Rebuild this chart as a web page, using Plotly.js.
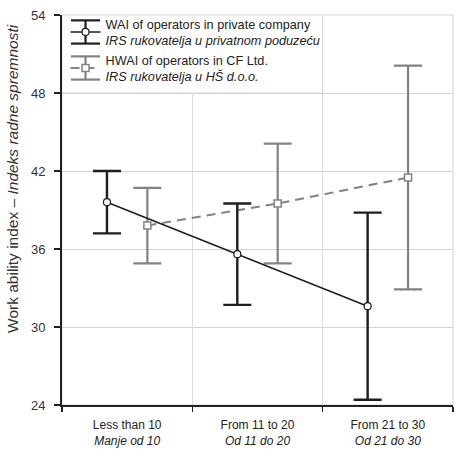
<!DOCTYPE html>
<html>
<head>
<meta charset="utf-8">
<script src="https://cdn.plot.ly/plotly-3.0.1.min.js"></script>
<style>
  html, body { margin: 0; padding: 0; background: #fff; }
  #chart { width: 458px; height: 454px; }
</style>
</head>
<body>
<div id="chart"></div>
<script>
// Work experience groups (English / Croatian)
const categories = ["Less than 10", "From 11 to 20", "From 21 to 30"];
const categoriesHr = ["Manje od 10", "Od 11 do 20", "Od 21 do 30"];

// WAI of operators in private company: mean and standard deviation
const waiMean = [39.6, 35.6, 31.6];
const waiSd = [2.4, 3.9, 7.2];

// HWAI of operators in CF Ltd.: mean and standard deviation
const hwaiMean = [37.8, 39.5, 41.5];
const hwaiSd = [2.9, 4.6, 8.6];

// Y-axis ticks
const yTicks = [24, 30, 36, 42, 48, 54];

const FONT = "Liberation Sans, Arial, sans-serif";
const DARK = "#1e1e1e";
const GREY = "#828282";
const GRID = "#d3d3d3";
const SHIFT = 0.155;          // side-by-side offset of the two series within a group
const idx = categories.map((_, i) => i);
const bounds = [-0.5].concat(idx.map(i => i + 0.5));

const hwai = {
  type: "scatter",
  mode: "lines+markers",
  x: idx.map(i => i + SHIFT),
  y: hwaiMean,
  name: "HWAI of operators in CF Ltd.<br><i>IRS rukovatelja u HŠ d.o.o.</i>",
  legendrank: 2,
  line: { color: GREY, width: 2, dash: "9px,6px" },
  marker: { symbol: "square", size: 7, color: "#fff", line: { color: GREY, width: 1.5 } },
  error_y: { type: "data", array: hwaiSd, visible: true, color: GREY, thickness: 2.2, width: 14 },
  xaxis: "x", yaxis: "y",
  hoverinfo: "skip"
};

const wai = {
  type: "scatter",
  mode: "lines+markers",
  x: idx.map(i => i - SHIFT),
  y: waiMean,
  name: "WAI of operators in private company<br><i>IRS rukovatelja u privatnom poduzeću</i>",
  legendrank: 1,
  line: { color: DARK, width: 1.5 },
  marker: { symbol: "circle", size: 7, color: "#fff", line: { color: DARK, width: 1.2 } },
  error_y: { type: "data", array: waiSd, visible: true, color: DARK, thickness: 2.4, width: 14 },
  xaxis: "x", yaxis: "y",
  hoverinfo: "skip"
};

// invisible trace so the boundary axis is rendered
const boundaryAxis = {
  type: "scatter", mode: "markers", x: bounds, y: bounds.map(() => 54),
  xaxis: "x2", yaxis: "y", showlegend: false, hoverinfo: "skip",
  marker: { opacity: 0 }
};

const M = { l: 62, r: 5, t: 15, b: 49 };
const W = 458, H = 454;
const pw = W - M.l - M.r, ph = H - M.t - M.b;

const baseShapes = [
  // light frame on the top and right sides
  { type: "rect", xref: "paper", yref: "paper", x0: 0, x1: 1, y0: 0, y1: 1,
    line: { color: GRID, width: 1 }, layer: "below" },
  // legend panel over the upper-left grid cell
  { type: "rect", xref: "x", yref: "y", x0: bounds[0], x1: bounds[2], y0: 48, y1: 54,
    fillcolor: "#fff", line: { color: GRID, width: 1 }, layer: "between" }
];

const layout = {
  width: W,
  height: H,
  margin: M,
  paper_bgcolor: "#fff",
  plot_bgcolor: "#fff",
  font: { family: FONT, size: 12, color: "#222" },
  showlegend: true,
  legend: {
    x: 0.009, y: 1.0155, xanchor: "left", yanchor: "top",
    bgcolor: "rgba(0,0,0,0)", borderwidth: 0,
    font: { family: FONT, size: 12.7, color: "#222" },
    tracegroupgap: 3, itemwidth: 30
  },
  xaxis: {
    range: [-0.5, 2.5],
    tickmode: "array",
    tickvals: idx,
    ticktext: categories.map((c, i) => c + "<br><i>" + categoriesHr[i] + "</i>"),
    ticks: "",
    showgrid: false, zeroline: false, showline: false,
    ticklabelstandoff: 11,
    tickfont: { family: FONT, size: 12, color: "#222" },
    fixedrange: true
  },
  xaxis2: {
    overlaying: "x",
    range: [-0.5, 2.5],
    tickmode: "array",
    tickvals: bounds,
    ticks: "outside", ticklen: 5, tickwidth: 1.5, tickcolor: "#222",
    showticklabels: false,
    showgrid: true, gridcolor: "#dedede", gridwidth: 1,
    zeroline: false,
    showline: true, linecolor: "#222", linewidth: 2,
    side: "bottom", anchor: "y",
    fixedrange: true
  },
  yaxis: {
    range: [24, 54],
    tickmode: "array",
    tickvals: yTicks,
    ticks: "outside", ticklen: 6, tickwidth: 1.5, tickcolor: "#222",
    ticklabelstandoff: 6,
    showgrid: true, gridcolor: GRID, gridwidth: 1,
    zeroline: false,
    showline: true, linecolor: "#222", linewidth: 2,
    tickfont: { family: FONT, size: 13, color: "#333" },
    fixedrange: true
  },
  shapes: baseShapes,
  annotations: [
    { xref: "paper", yref: "paper", x: -0.128, y: 0.582, xanchor: "center", yanchor: "middle",
      textangle: -90, showarrow: false,
      text: "Work ability index – <i>Indeks radne spremnosti</i>",
      font: { family: FONT, size: 15.5, color: "#333" } }
  ]
};

// Legend icons get error-bar caps around their markers, like the plotted series
function legendCaps(gd) {
  const svg = gd.querySelector("svg.main-svg").getBoundingClientRect();
  const toPx = v => (v - M.l) / pw;
  const toPy = v => (H - M.b - v) / ph;
  const extra = [];
  gd.querySelectorAll("g.legend g.traces").forEach(g => {
    const pt = g.querySelector("path.scatterpts");
    const d = g.__data__ && g.__data__[0];
    if (!pt || !d || !d.trace || !d.trace.error_y) return;
    const r = pt.getBoundingClientRect();
    const cx = r.left + r.width / 2 - svg.left;
    const cy = r.top + r.height / 2 - svg.top;
    const color = d.trace.error_y.color;
    const half = 11.6, reach = 14.5;
    const seg = (x0, y0, x1, y1) => ({
      type: "line", xref: "paper", yref: "paper",
      x0: toPx(x0), y0: toPy(y0), x1: toPx(x1), y1: toPy(y1),
      line: { color: color, width: 2.2 }, layer: "above"
    });
    extra.push(seg(cx - reach, cy - half, cx + reach, cy - half));
    extra.push(seg(cx - reach, cy + half, cx + reach, cy + half));
    extra.push(seg(cx, cy - half, cx, cy + half));
  });
  return Plotly.relayout(gd, { shapes: baseShapes.concat(extra) });
}

Plotly.newPlot("chart", [boundaryAxis, hwai, wai], layout, { displayModeBar: false, staticPlot: true })
  .then(legendCaps);
</script>
</body>
</html>
